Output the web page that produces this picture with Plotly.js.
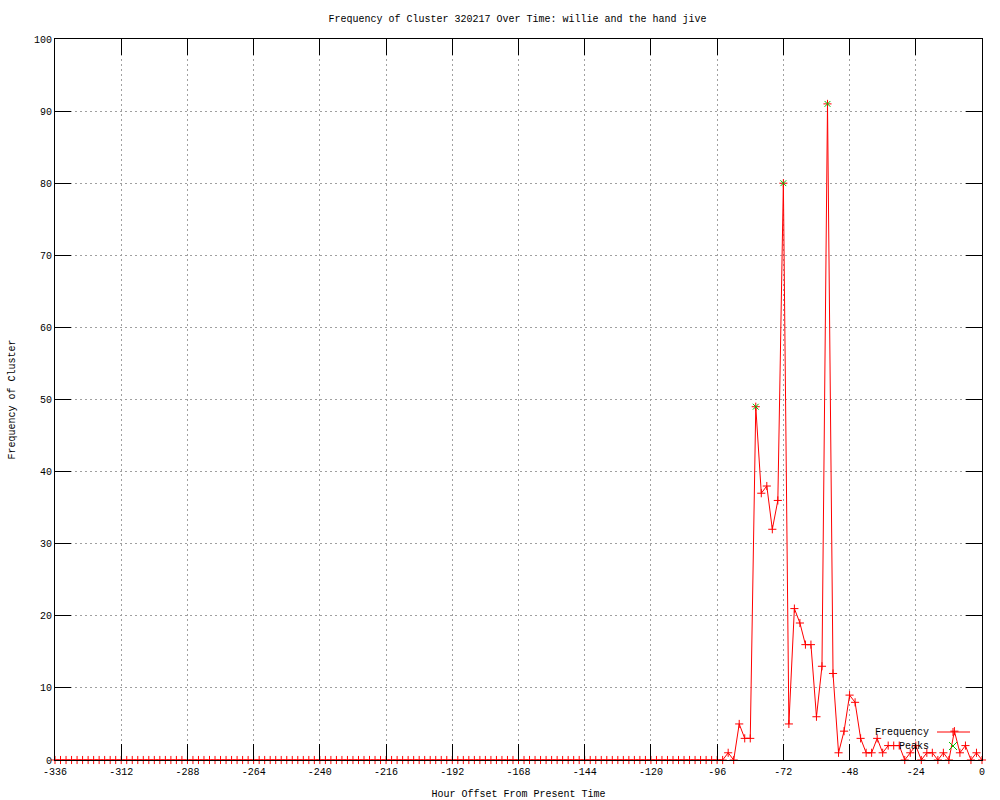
<!DOCTYPE html>
<html>
<head>
<meta charset="utf-8">
<script src="https://cdn.plot.ly/plotly-3.0.1.min.js"></script>
<style>
  html, body { margin: 0; padding: 0; background: #ffffff; }
  #chart { width: 1000px; height: 800px; }
</style>
</head>
<body>
<div id="chart"></div>
<script>
// Hour offsets (every 2 hours from -336 to 0)
const hours = [
  -336,-334,-332,-330,-328,-326,-324,-322,-320,-318,-316,-314,-312,-310,-308,-306,-304,-302,-300,-298,
  -296,-294,-292,-290,-288,-286,-284,-282,-280,-278,-276,-274,-272,-270,-268,-266,-264,-262,-260,-258,
  -256,-254,-252,-250,-248,-246,-244,-242,-240,-238,-236,-234,-232,-230,-228,-226,-224,-222,-220,-218,
  -216,-214,-212,-210,-208,-206,-204,-202,-200,-198,-196,-194,-192,-190,-188,-186,-184,-182,-180,-178,
  -176,-174,-172,-170,-168,-166,-164,-162,-160,-158,-156,-154,-152,-150,-148,-146,-144,-142,-140,-138,
  -136,-134,-132,-130,-128,-126,-124,-122,-120,-118,-116,-114,-112,-110,-108,-106,-104,-102,-100,-98,
  -96,-94,-92,-90,-88,-86,-84,-82,-80,-78,-76,-74,-72,-70,-68,-66,-64,-62,-60,-58,
  -56,-54,-52,-50,-48,-46,-44,-42,-40,-38,-36,-34,-32,-30,-28,-26,-24,-22,-20,-18,
  -16,-14,-12,-10,-8,-6,-4,-2,0
];
// Frequency of cluster at each offset
const frequency = [
  0,0,0,0,0,0,0,0,0,0,0,0,0,0,0,0,0,0,0,0,
  0,0,0,0,0,0,0,0,0,0,0,0,0,0,0,0,0,0,0,0,
  0,0,0,0,0,0,0,0,0,0,0,0,0,0,0,0,0,0,0,0,
  0,0,0,0,0,0,0,0,0,0,0,0,0,0,0,0,0,0,0,0,
  0,0,0,0,0,0,0,0,0,0,0,0,0,0,0,0,0,0,0,0,
  0,0,0,0,0,0,0,0,0,0,0,0,0,0,0,0,0,0,0,0,
  0,0,1,0,5,3,3,49,37,38,32,36,80,5,21,19,16,16,6,13,
  91,12,1,4,9,8,3,1,1,3,1,2,2,2,0,1,2,0,1,1,
  0,1,0,4,1,2,0,1,0
];
// Peaks
const peakHours = [-82, -72, -56];
const peakValues = [49, 80, 91];

const xTicks = [-336,-312,-288,-264,-240,-216,-192,-168,-144,-120,-96,-72,-48,-24,0];
const yTicks = [0,10,20,30,40,50,60,70,80,90,100];

const RED = '#ff0000';
const GREEN = '#00c000';
const FONT = 'Liberation Mono, DejaVu Sans Mono, monospace';

const traces = [
  {
    x: hours, y: frequency, name: 'Frequency', type: 'scatter', mode: 'lines+markers',
    line: { color: RED, width: 1 },
    marker: { symbol: 'cross-thin-open', size: 5.8, color: RED, line: { color: RED, width: 1 } },
    showlegend: false, cliponaxis: false
  },
  {
    x: peakHours, y: peakValues, name: 'Peaks', type: 'scatter', mode: 'markers',
    marker: { symbol: 'x-thin-open', size: 5.8, color: GREEN, line: { color: GREEN, width: 1 } },
    showlegend: false, cliponaxis: false
  }
];

const axisCommon = {
  showline: true, linecolor: '#000000', linewidth: 1, mirror: 'allticks',
  ticks: 'inside', ticklen: 16, tickcolor: '#000000', tickwidth: 1,
  showgrid: true, gridcolor: '#a0a0a0', griddash: '2px,3px', gridwidth: 1,
  zeroline: false, tickfont: { family: FONT, size: 10, color: '#000000' },
  automargin: false
};

// Legend (drawn gnuplot-style: text left, sample right)
const legY1 = 732, legY2 = 746;
const pyToPaper = py => (760 - py) / 721;
const pxToPaper = px => (px - 55) / 927;

const layout = {
  width: 1000, height: 800,
  paper_bgcolor: '#ffffff', plot_bgcolor: '#ffffff',
  margin: { l: 55, r: 18, t: 39, b: 40, pad: 0 },
  font: { family: FONT, size: 10, color: '#000000' },
  title: { text: 'Frequency of Cluster 320217 Over Time: willie and the hand jive',
           font: { family: FONT, size: 10, color: '#000000' },
           x: 0.5175, xanchor: 'center', y: 1 - 18/800, yanchor: 'middle' },
  xaxis: Object.assign({}, axisCommon, {
    range: [-336, 0], tickvals: xTicks, ticktext: xTicks.map(String),
    ticklabelstandoff: 2,
    title: { text: 'Hour Offset From Present Time', font: { family: FONT, size: 10 }, standoff: 12 }
  }),
  yaxis: Object.assign({}, axisCommon, {
    range: [0, 100], tickvals: yTicks, ticktext: yTicks.map(String),
    title: { text: 'Frequency of Cluster', font: { family: FONT, size: 10 }, standoff: 16 }
  }),
  shapes: [
    { type: 'line', xref: 'paper', yref: 'paper',
      x0: pxToPaper(937), x1: pxToPaper(970), y0: pyToPaper(legY1), y1: pyToPaper(legY1),
      line: { color: RED, width: 1 } },
    { type: 'line', xref: 'paper', yref: 'paper',
      x0: pxToPaper(953), x1: pxToPaper(953), y0: pyToPaper(legY1 - 4), y1: pyToPaper(legY1 + 4),
      line: { color: RED, width: 1 } },
    { type: 'line', xref: 'paper', yref: 'paper',
      x0: pxToPaper(949), x1: pxToPaper(957), y0: pyToPaper(legY2 - 4), y1: pyToPaper(legY2 + 4),
      line: { color: GREEN, width: 1 } },
    { type: 'line', xref: 'paper', yref: 'paper',
      x0: pxToPaper(949), x1: pxToPaper(957), y0: pyToPaper(legY2 + 4), y1: pyToPaper(legY2 - 4),
      line: { color: GREEN, width: 1 } }
  ],
  annotations: [
    { text: 'Frequency', xref: 'paper', yref: 'paper', x: pxToPaper(931), y: pyToPaper(legY1),
      xanchor: 'right', yanchor: 'middle', showarrow: false, font: { family: FONT, size: 10, color: '#000000' } },
    { text: 'Peaks', xref: 'paper', yref: 'paper', x: pxToPaper(931), y: pyToPaper(legY2),
      xanchor: 'right', yanchor: 'middle', showarrow: false, font: { family: FONT, size: 10, color: '#000000' } }
  ],
  showlegend: false
};

Plotly.newPlot('chart', traces, layout, { displayModeBar: false, staticPlot: true });
</script>
</body>
</html>
